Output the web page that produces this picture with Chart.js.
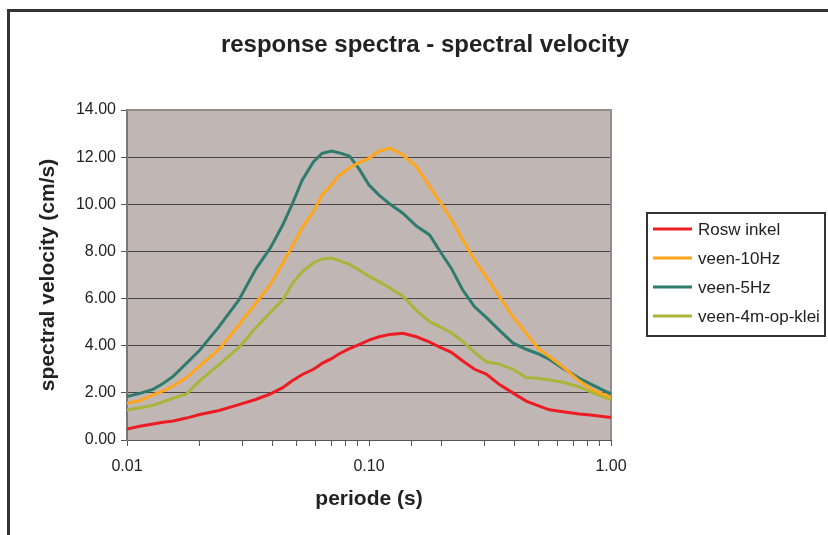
<!DOCTYPE html>
<html>
<head>
<meta charset="utf-8">
<script src="https://cdn.jsdelivr.net/npm/chart.js@4.4.0/dist/chart.umd.min.js"></script>
<style>
  html, body { margin: 0; padding: 0; background: #fff; overflow: hidden; }
  #wrap { position: relative; width: 828px; height: 535px; }
</style>
</head>
<body>
<div id="wrap"><canvas id="myChart" width="828" height="535"></canvas></div>
<script>
// periods (s)
var periods = [0.010, 0.0113, 0.0128, 0.0141, 0.0155, 0.0176, 0.020, 0.024, 0.029, 0.034,
               0.039, 0.044, 0.048, 0.053, 0.059, 0.064, 0.070, 0.075, 0.083, 0.091,
               0.100, 0.110, 0.122, 0.138, 0.157, 0.178, 0.195, 0.219, 0.244, 0.273,
               0.305, 0.346, 0.393, 0.446, 0.499, 0.557, 0.632, 0.741, 0.841, 1.000];

// spectral velocity (cm/s)
var roswinkel = [0.47, 0.58, 0.68, 0.75, 0.81, 0.93, 1.08, 1.25, 1.50, 1.72,
                 1.95, 2.22, 2.50, 2.78, 3.00, 3.25, 3.45, 3.65, 3.88, 4.05,
                 4.24, 4.38, 4.48, 4.53, 4.38, 4.15, 3.95, 3.72, 3.35, 3.00,
                 2.80, 2.35, 2.00, 1.65, 1.46, 1.28, 1.20, 1.10, 1.05, 0.95];
var veen10 = [1.56, 1.67, 1.91, 2.08, 2.29, 2.65, 3.14, 3.85, 4.88, 5.80,
              6.58, 7.50, 8.20, 9.00, 9.72, 10.40, 10.83, 11.20, 11.55, 11.77,
              11.95, 12.26, 12.38, 12.10, 11.60, 10.75, 10.15, 9.35, 8.50, 7.64,
              6.93, 6.08, 5.23, 4.53, 3.89, 3.53, 3.10, 2.50, 2.12, 1.81];
var veen5 = [1.84, 1.98, 2.15, 2.40, 2.70, 3.25, 3.82, 4.81, 5.94, 7.24,
             8.13, 9.12, 9.97, 11.03, 11.81, 12.16, 12.26, 12.19, 12.05, 11.50,
             10.82, 10.39, 10.01, 9.62, 9.08, 8.70, 8.06, 7.28, 6.36, 5.65,
             5.20, 4.65, 4.12, 3.85, 3.66, 3.42, 3.04, 2.62, 2.33, 1.95];
var veen4m = [1.27, 1.37, 1.47, 1.62, 1.77, 1.95, 2.52, 3.20, 3.93, 4.75,
              5.40, 5.94, 6.60, 7.15, 7.52, 7.68, 7.72, 7.62, 7.45, 7.21,
              6.95, 6.72, 6.45, 6.10, 5.50, 5.02, 4.82, 4.55, 4.18, 3.72,
              3.32, 3.22, 3.00, 2.65, 2.62, 2.55, 2.45, 2.25, 2.00, 1.70];

var seriesNames = ["Rosw inkel", "veen-10Hz", "veen-5Hz", "veen-4m-op-klei"];
var seriesColors = ["#ed1c24", "#ffa61a", "#2f7b6e", "#a9b53a"];
var seriesValues = [roswinkel, veen10, veen5, veen4m];

var FONT = "'Liberation Sans', Arial, sans-serif";

function toPoints(vals) {
    return periods.map(function (p, i) { return { x: p, y: vals[i] }; });
}

var datasets = seriesValues.map(function (vals, i) {
    return {
        label: seriesNames[i],
        data: toPoints(vals),
        borderColor: seriesColors[i],
        backgroundColor: seriesColors[i],
        borderWidth: 3,
        pointRadius: 0,
        tension: 0,
        fill: false
    };
});

// frame, title, plot background and legend
var decor = {
    id: "decor",
    beforeDraw: function (chart) {
        var c = chart.ctx, a = chart.chartArea;
        c.save();
        c.fillStyle = "#c0b7b4";
        c.fillRect(a.left, a.top, a.right - a.left, a.bottom - a.top);
        c.restore();
    },
    beforeDatasetsDraw: function (chart) {
        var c = chart.ctx, a = chart.chartArea;
        c.save();
        c.strokeStyle = "#958b88";
        c.lineWidth = 2;
        c.beginPath();
        c.moveTo(a.left, a.top);
        c.lineTo(a.right, a.top);
        c.lineTo(a.right, a.bottom);
        c.stroke();
        c.restore();
    },
    afterDraw: function (chart) {
        var c = chart.ctx;
        c.save();
        // outer frame
        c.strokeStyle = "#333";
        c.lineWidth = 3;
        c.strokeRect(8.5, 10.5, 900, 600);

        // title
        c.fillStyle = "#222";
        c.font = "bold 24px " + FONT;
        c.textAlign = "center";
        c.textBaseline = "middle";
        c.fillText("response spectra - spectral velocity", 425, 45);

        // legend
        c.strokeStyle = "#333";
        c.lineWidth = 2;
        c.strokeRect(647, 213, 178, 123);
        c.font = "17px " + FONT;
        c.textAlign = "left";
        chart.data.datasets.forEach(function (ds, i) {
            var y = 229 + i * 29;
            c.strokeStyle = ds.borderColor;
            c.lineWidth = 3;
            c.beginPath();
            c.moveTo(653, y);
            c.lineTo(692, y);
            c.stroke();
            c.fillStyle = "#222";
            c.fillText(ds.label, 698, y + 1);
        });
        c.restore();
    }
};

var ctx = document.getElementById("myChart").getContext("2d");
var chart = new Chart(ctx, {
    type: "line",
    data: { datasets: datasets },
    plugins: [decor],
    options: {
        responsive: false,
        animation: false,
        layout: { padding: { left: 31, top: 110, right: 217, bottom: 0 } },
        plugins: {
            legend: { display: false },
            title: { display: false },
            tooltip: { enabled: false }
        },
        scales: {
            x: {
                type: "logarithmic",
                min: 0.01,
                max: 1,
                afterFit: function (s) { s.height = 95; },
                border: { display: true, color: "#555", width: 1 },
                grid: {
                    drawOnChartArea: false,
                    drawTicks: true,
                    tickLength: 6,
                    tickColor: "#555"
                },
                ticks: {
                    autoSkip: false,
                    maxRotation: 0,
                    padding: 11,
                    color: "#222",
                    font: { family: FONT, size: 16 },
                    callback: function (v) {
                        var l = Math.log10(v);
                        return Math.abs(l - Math.round(l)) < 1e-6 ? v.toFixed(2) : "";
                    }
                },
                title: {
                    display: true,
                    text: "periode (s)",
                    color: "#222",
                    font: { family: FONT, size: 21, weight: "bold" },
                    padding: { top: 4, bottom: 23 }
                }
            },
            y: {
                min: 0,
                max: 14,
                afterFit: function (s) { s.width = 96; },
                border: { display: true, color: "#7d7573", width: 2 },
                grid: {
                    color: "#4a4545",
                    lineWidth: 1,
                    drawTicks: true,
                    tickLength: 6,
                    tickColor: "#555"
                },
                ticks: {
                    stepSize: 2,
                    padding: 5,
                    color: "#222",
                    font: { family: FONT, size: 16 },
                    callback: function (v) { return v.toFixed(2); }
                },
                title: {
                    display: true,
                    text: "spectral velocity (cm/s)",
                    color: "#222",
                    font: { family: FONT, size: 21, weight: "bold" },
                    padding: { top: 5, bottom: 4 }
                }
            }
        }
    }
});
</script>
</body>
</html>
